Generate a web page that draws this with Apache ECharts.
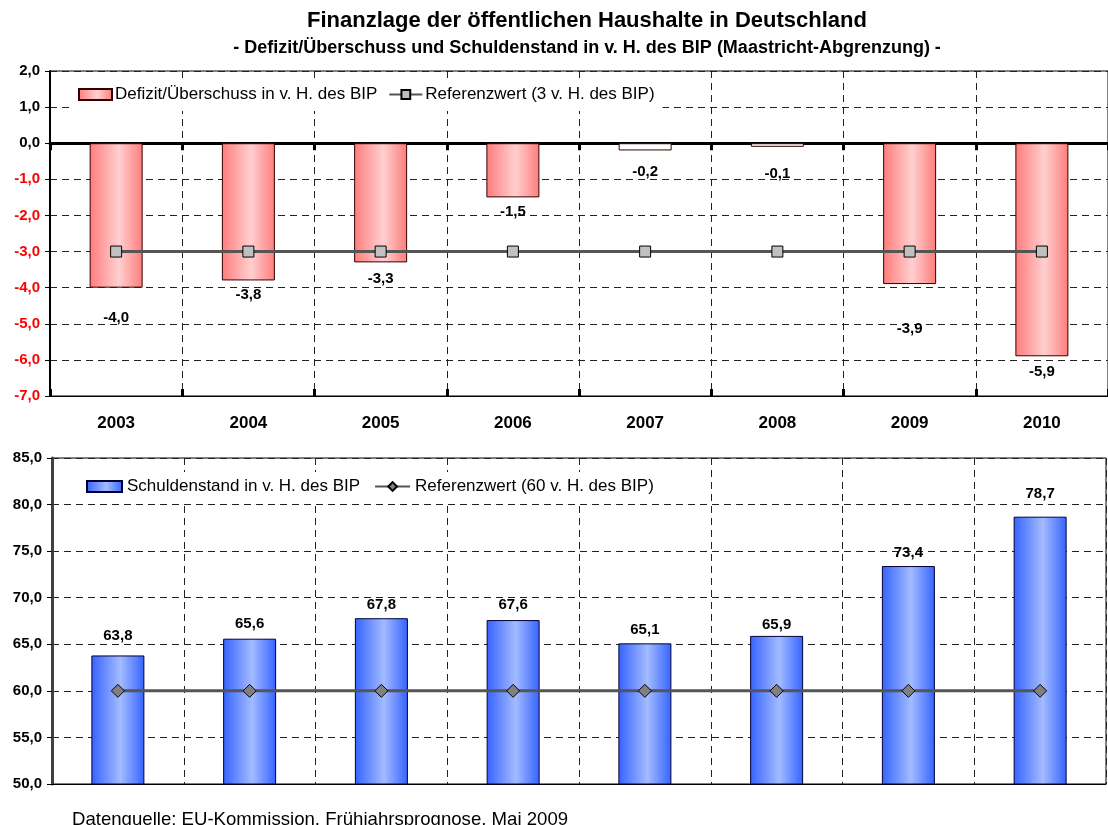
<!DOCTYPE html>
<html>
<head>
<meta charset="utf-8">
<script src="https://cdn.jsdelivr.net/npm/echarts@6/dist/echarts.min.js"></script>
<style>
html,body{margin:0;padding:0;background:#fff;}
#c{width:1108px;height:825px;}
</style>
</head>
<body>
<div id="c"></div>
<script>
// ---- data ----
const years = ['2003','2004','2005','2006','2007','2008','2009','2010'];
const defizit = [-4.0, -3.8, -3.3, -1.5, -0.2, -0.1, -3.9, -5.9];
const refDefizit = [-3, -3, -3, -3, -3, -3, -3, -3];
const schulden = [63.8, 65.6, 67.8, 67.6, 65.1, 65.9, 73.4, 78.7];
const refSchulden = [60, 60, 60, 60, 60, 60, 60, 60];
const topTicks = [2, 1, 0, -1, -2, -3, -4, -5, -6, -7];
const bottomTicks = [85, 80, 75, 70, 65, 60, 55, 50];

// ---- style ----
const FONT = '"Liberation Sans", Arial, sans-serif';
const defLabelExtra = [15, -1, 1, -1, 6, 12, 29, 0];
const schLabelExtra = [7, 2, 1, 3, 1, -1, 1, 10];
const whiteBars = [4, 5];
const fmt = v => v.toFixed(1).replace('.', ',');

const redGrad = new echarts.graphic.LinearGradient(0, 0, 1, 0, [
  {offset: 0, color: '#ff7c7c'},
  {offset: 0.55, color: '#ffcfcf'},
  {offset: 1, color: '#ff7c7c'}
]);
const blueGrad = new echarts.graphic.LinearGradient(0, 0, 1, 0, [
  {offset: 0, color: '#3563ff'},
  {offset: 0.55, color: '#a3bbff'},
  {offset: 1, color: '#3563ff'}
]);

const dash = {type: [7, 5], color: '#222', width: 1};

const defData = defizit.map((v, i) => ({
  value: v,
  itemStyle: whiteBars.includes(i) ? {color: '#fff'} : undefined,
  label: {offset: [0, defLabelExtra[i]]}
}));
const schData = schulden.map((v, i) => ({
  value: v,
  label: {offset: [0, -schLabelExtra[i]]}
}));

const chart = echarts.init(document.getElementById('c'), null, {renderer: 'canvas'});
chart.setOption({
  animation: false,
  backgroundColor: '#fff',
  textStyle: {fontFamily: FONT},
  title: [
    {text: 'Finanzlage der öffentlichen Haushalte in Deutschland', left: 582, top: 5, textAlign: 'center',
     textStyle: {fontFamily: FONT, fontSize: 22, fontWeight: 'bold', color: '#000'}},
    {text: '- Defizit/Überschuss und Schuldenstand in v. H. des BIP (Maastricht-Abgrenzung) -', left: 582, top: 34, textAlign: 'center',
     textStyle: {fontFamily: FONT, fontSize: 18, fontWeight: 'bold', color: '#000'}},
    {text: 'Datenquelle: EU-Kommission, Frühjahrsprognose, Mai 2009', left: 67, top: 805,
     textStyle: {fontFamily: FONT, fontSize: 18.6, fontWeight: 'normal', color: '#000'}}
  ],
  legend: [
    {data: [{name: 'Defizit/Überschuss in v. H. des BIP', icon: 'rect'}, {name: 'Referenzwert (3 v. H. des BIP)'}],
     left: 72, top: 78, padding: [8, 8, 8, 6], itemGap: 11, itemWidth: 33, itemHeight: 11,
     backgroundColor: '#fff',
     textStyle: {fontFamily: FONT, fontSize: 17, color: '#000', padding: [0, 0, 0, -2]}},
    {data: [{name: 'Schuldenstand in v. H. des BIP', icon: 'rect'}, {name: 'Referenzwert (60 v. H. des BIP)'}],
     left: 80, top: 472, padding: [6, 8, 6, 6], itemGap: 14, itemWidth: 35, itemHeight: 11,
     backgroundColor: '#fff',
     textStyle: {fontFamily: FONT, fontSize: 17, color: '#000', padding: [0, 0, 0, 0]}}
  ],
  grid: [
    {left: 50, top: 71, width: 1059, height: 325, show: true, borderColor: '#000', borderWidth: 1, backgroundColor: 'transparent'},
    {left: 52, top: 458, width: 1054, height: 326, show: true, borderColor: '#000', borderWidth: 1, backgroundColor: 'transparent'}
  ],
  xAxis: [
    {gridIndex: 0, type: 'category', data: years, position: 'bottom',
     axisLine: {onZero: false, show: true, lineStyle: {color: '#000', width: 1}},
     axisTick: {show: false},
     axisLabel: {margin: 19, fontFamily: FONT, fontSize: 17, fontWeight: 'bold', color: '#000'},
     splitLine: {show: true, lineStyle: dash}},
    {gridIndex: 0, type: 'category', data: years, position: 'bottom',
     axisLine: {onZero: true, show: true, lineStyle: {color: '#000', width: 3}},
     axisTick: {show: true, inside: false, length: 7, lineStyle: {color: '#000', width: 3}},
     axisLabel: {show: false}, splitLine: {show: false}},
    {gridIndex: 0, type: 'category', data: years, position: 'bottom',
     axisLine: {onZero: true, show: true, lineStyle: {color: 'rgba(0,0,0,0)', width: 1}},
     axisTick: {show: true, inside: true, length: 7, lineStyle: {color: '#000', width: 3}},
     axisLabel: {show: false}, splitLine: {show: false}},
    {gridIndex: 1, type: 'category', data: years, position: 'bottom',
     axisLine: {show: true, lineStyle: {color: '#000', width: 1}},
     axisTick: {show: false}, axisLabel: {show: false},
     splitLine: {show: true, lineStyle: dash}}
  ],
  yAxis: [
    {gridIndex: 0, type: 'value', min: topTicks[topTicks.length - 1], max: topTicks[0], interval: 1,
     axisLine: {show: true, lineStyle: {color: '#000', width: 2}},
     axisTick: {show: true, length: 5, lineStyle: {color: '#000'}},
     axisLabel: {margin: 10, fontFamily: FONT, fontSize: 15, fontWeight: 'bold',
       formatter: v => fmt(v),
       color: v => (Number(v) < 0 ? '#ff0000' : '#000')},
     splitLine: {show: true, lineStyle: dash}},
    {gridIndex: 1, type: 'value', min: bottomTicks[bottomTicks.length - 1], max: bottomTicks[0], interval: 5,
     axisLine: {show: true, lineStyle: {color: '#404040', width: 3}},
     axisTick: {show: true, length: 5, lineStyle: {color: '#000'}},
     axisLabel: {margin: 10, fontFamily: FONT, fontSize: 15, fontWeight: 'bold', color: '#000',
       formatter: v => fmt(v)},
     splitLine: {show: true, lineStyle: dash}}
  ],
  series: [
    {name: 'Defizit/Überschuss in v. H. des BIP', type: 'bar', xAxisIndex: 0, yAxisIndex: 0,
     data: defData, barWidth: 53,
     itemStyle: {color: redGrad, borderColor: '#300', borderWidth: 1},
     label: {show: true, position: 'bottom', distance: 8, formatter: p => fmt(p.value),
       fontFamily: FONT, fontSize: 15, fontWeight: 'bold', color: '#000'}},
    {name: 'Referenzwert (3 v. H. des BIP)', type: 'line', xAxisIndex: 0, yAxisIndex: 0,
     data: refDefizit, symbol: 'rect', symbolSize: 11,
     lineStyle: {color: '#555', width: 3},
     itemStyle: {color: '#c0c0c0', borderColor: '#000', borderWidth: 1}, z: 5},
    {name: 'Schuldenstand in v. H. des BIP', type: 'bar', xAxisIndex: 3, yAxisIndex: 1,
     data: schData, barWidth: 53,
     itemStyle: {color: blueGrad, borderColor: '#000033', borderWidth: 1},
     label: {show: true, position: 'top', distance: 5, formatter: p => fmt(p.value),
       fontFamily: FONT, fontSize: 15, fontWeight: 'bold', color: '#000'}},
    {name: 'Referenzwert (60 v. H. des BIP)', type: 'line', xAxisIndex: 3, yAxisIndex: 1,
     data: refSchulden, symbol: 'diamond', symbolSize: 13,
     lineStyle: {color: '#555', width: 3},
     itemStyle: {color: '#808080', borderColor: '#000', borderWidth: 1}, z: 5}
  ]
});
</script>
</body>
</html>
